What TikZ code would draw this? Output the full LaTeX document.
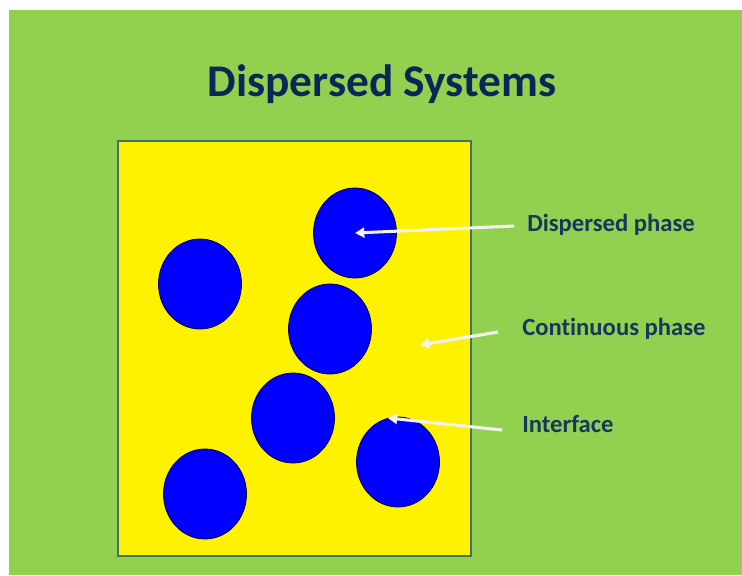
\documentclass[tikz,border=0pt]{standalone}
\usepackage{fontspec}
\setmainfont{Carlito}[Ligatures=NoCommon]
\usetikzlibrary{shapes.geometric,arrows.meta}
\definecolor{slidegreen}{HTML}{92D050}
\definecolor{titleblue}{HTML}{0B2657}
\definecolor{labelblue}{HTML}{17375E}
\definecolor{boxedge}{HTML}{42706E}
\definecolor{arrowwhite}{HTML}{F2F2F2}
\tikzset{
  drop/.style={ellipse, draw=black!70!blue, line width=0.6pt, fill=blue, minimum width=83*0.75pt, minimum height=90*0.75pt, inner sep=0pt},
  phaselabel/.style={anchor=west, inner sep=0pt, text=labelblue, font=\fontsize{18.5}{22}\selectfont\bfseries},
  pointer/.style={draw=arrowwhite, line width=2.3pt, -{Triangle[length=7pt,width=7.5pt]}}
}
\begin{document}
\begin{tikzpicture}[x=0.75pt, y=-0.75pt]
\useasboundingbox (0,0) rectangle (742,575);
\fill[white] (0,0) rectangle (742,575);
\fill[slidegreen] (9,10) rectangle (742,575);
\node[text=titleblue, font=\fontsize{34}{41}\selectfont\bfseries] (title) at (382,84) {Dispersed Systems};
% the continuous phase
\draw[fill=yellow, draw=boxedge, line width=1.6pt] (118,141) rectangle (471,556);
% dispersed drops
\foreach \n/\x/\y in {d1/355/233, d2/200/284, d3/330/329, d4/293/418, d5/398/462, d6/205/494} {\node[drop] (\n) at (\x,\y) {};}
\node[phaselabel] (disp) at (527,225) {Dispersed phase};
\node[phaselabel] (cont) at (522,329) {Continuous phase};
\node[phaselabel] (intf) at (522,424) {Interface};
\coordinate (disptail) at (514,226);
\coordinate (conttail) at (498,332);
\coordinate (conttip) at (420,345);
\coordinate (intftail) at (502,430);
\draw[pointer] (disptail) -- (d1.center);
\draw[pointer] (conttail) -- (conttip);
\draw[pointer] (intftail) -- (d5.103);
\end{tikzpicture}
\end{document}
